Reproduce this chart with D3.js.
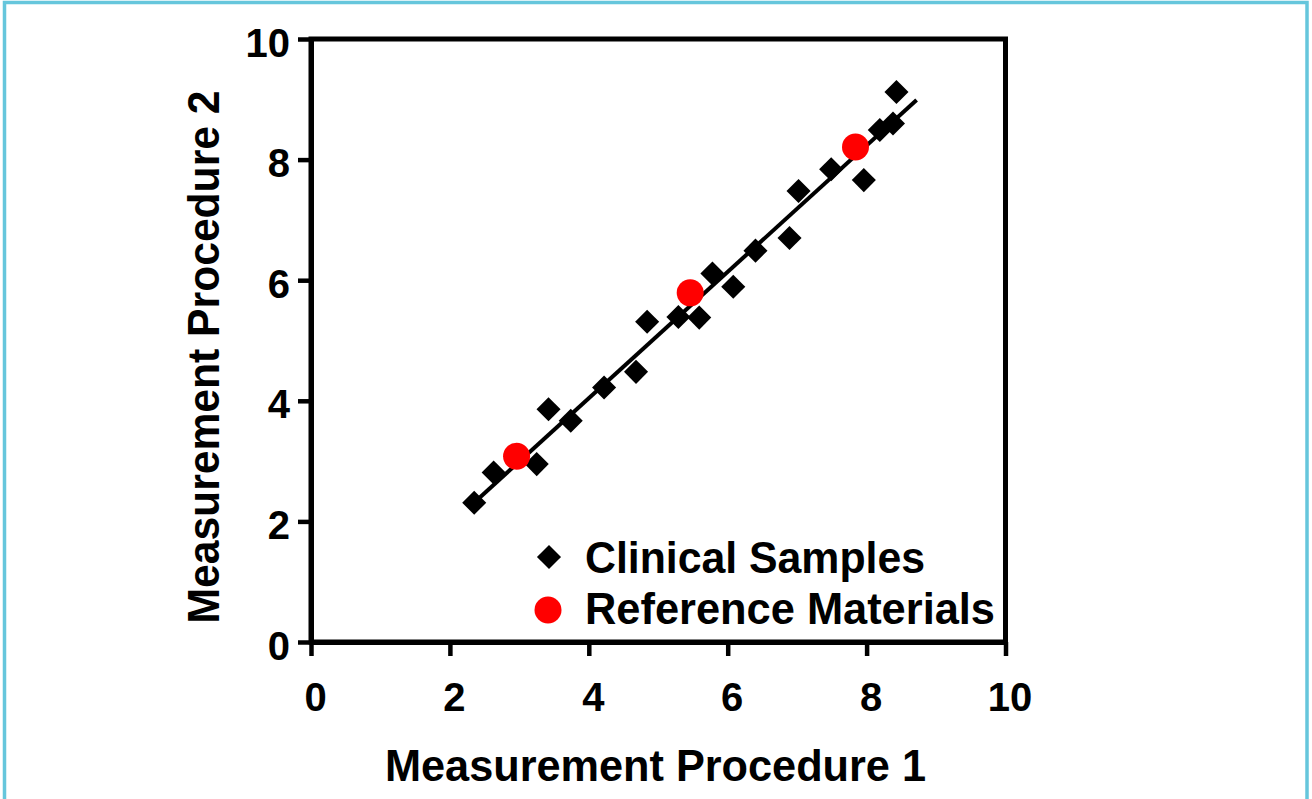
<!DOCTYPE html>
<html>
<head>
<meta charset="utf-8">
<script src="https://cdn.jsdelivr.net/npm/d3@7"></script>
<style>
  html, body { margin: 0; padding: 0; background: #ffffff; }
  svg { display: block; }
  text { font-family: "Liberation Sans", Arial, sans-serif; font-weight: bold; fill: #000; }
</style>
</head>
<body>
<svg id="chart" width="1312" height="799"></svg>
<script>
// ---- Data ----
const clinicalX = [2.35, 2.63, 3.25, 3.42, 3.74, 4.22, 4.68, 4.84, 5.29, 5.59, 5.78, 6.08, 6.40, 6.89, 7.02, 7.49, 7.96, 8.19, 8.38, 8.43];
const clinicalY = [2.31, 2.81, 2.95, 3.86, 3.67, 4.22, 4.48, 5.31, 5.39, 5.38, 6.11, 5.89, 6.49, 6.70, 7.48, 7.84, 7.66, 8.49, 8.60, 9.12];
const referenceX = [2.96, 5.46, 7.84];
const referenceY = [3.08, 5.79, 8.21];
const fitX = [2.30, 8.72];
const fitY = [2.26, 8.99];
const ticks = [0, 2, 4, 6, 8, 10];
const xTitle = "Measurement Procedure 1";
const yTitle = "Measurement Procedure 2";
const legendLabels = ["Clinical Samples", "Reference Materials"];

// ---- Setup ----
const svg = d3.select("#chart");

// outer teal border
svg.append("rect").attr("x", 4.5).attr("y", 2.5).attr("width", 1302.5).attr("height", 810)
  .attr("fill", "#ffffff").attr("stroke", "#66c6dc").attr("stroke-width", 3.5);

const x = d3.scaleLinear().domain([0, 10]).range([311, 1005.5]);
const y = d3.scaleLinear().domain([0, 10]).range([642, 39]);

// frame (top & right)
svg.append("rect")
  .attr("x", x(0)).attr("y", y(10))
  .attr("width", x(10) - x(0)).attr("height", y(0) - y(10))
  .attr("fill", "none").attr("stroke", "#000").attr("stroke-width", 5);

// x axis
const gx = svg.append("g").attr("transform", `translate(0,${y(0)})`)
  .call(d3.axisBottom(x).tickValues(ticks).tickSize(14).tickSizeOuter(0).tickFormat(d3.format("d")));
gx.select(".domain").attr("stroke", "#000").attr("stroke-width", 5);
gx.selectAll(".tick line").attr("stroke", "#000").attr("stroke-width", 4.5);
gx.selectAll(".tick text").attr("y", 69).attr("dy", 0).attr("dx", 4)
  .style("font-size", "40px").style("font-family", "Liberation Sans, Arial, sans-serif").style("font-weight", "bold").attr("fill", "#000");

// y axis
const gy = svg.append("g").attr("transform", `translate(${x(0)},0)`)
  .call(d3.axisLeft(y).tickValues(ticks).tickSize(13).tickSizeOuter(0).tickFormat(d3.format("d")));
gy.select(".domain").attr("stroke", "#000").attr("stroke-width", 5);
gy.selectAll(".tick line").attr("stroke", "#000").attr("stroke-width", 4.5);
gy.selectAll(".tick text").attr("x", -21).attr("dy", 0).attr("y", 17)
  .style("font-size", "40px").style("font-family", "Liberation Sans, Arial, sans-serif").style("font-weight", "bold").attr("fill", "#000");

// axis titles
svg.append("text").attr("x", 655.5).attr("y", 781).attr("text-anchor", "middle")
  .attr("textLength", 541).attr("lengthAdjust", "spacingAndGlyphs")
  .style("font-size", "44.5px").text(xTitle);
svg.append("text").attr("transform", `translate(218.5,357) rotate(-90)`).attr("text-anchor", "middle")
  .attr("textLength", 533).attr("lengthAdjust", "spacingAndGlyphs")
  .style("font-size", "44.5px").text(yTitle);

// fit line
const line = d3.line().x(d => x(d[0])).y(d => y(d[1]));
svg.append("path").datum(fitX.map((v, i) => [v, fitY[i]]))
  .attr("d", line).attr("fill", "none").attr("stroke", "#000").attr("stroke-width", 4);

// clinical samples (diamonds)
const diamond = d3.symbol().type(d3.symbolSquare).size(290);
svg.append("g").selectAll("path").data(clinicalX.map((v, i) => [v, clinicalY[i]]))
  .join("path")
  .attr("d", diamond)
  .attr("transform", d => `translate(${x(d[0])},${y(d[1])}) rotate(45)`)
  .attr("fill", "#000");

// reference materials (red circles)
svg.append("g").selectAll("circle").data(referenceX.map((v, i) => [v, referenceY[i]]))
  .join("circle")
  .attr("cx", d => x(d[0])).attr("cy", d => y(d[1])).attr("r", 13.5)
  .attr("fill", "#ff0000");

// legend
const lg = svg.append("g");
lg.append("path").attr("d", diamond).attr("transform", "translate(549,557) rotate(45)").attr("fill", "#000");
lg.append("text").attr("x", 585).attr("y", 573).attr("textLength", 340).attr("lengthAdjust", "spacingAndGlyphs")
  .style("font-size", "44px").text(legendLabels[0]);
lg.append("circle").attr("cx", 548).attr("cy", 610).attr("r", 13.5).attr("fill", "#ff0000");
lg.append("text").attr("x", 585).attr("y", 624).attr("textLength", 410).attr("lengthAdjust", "spacingAndGlyphs")
  .style("font-size", "44px").text(legendLabels[1]);
</script>
</body>
</html>
